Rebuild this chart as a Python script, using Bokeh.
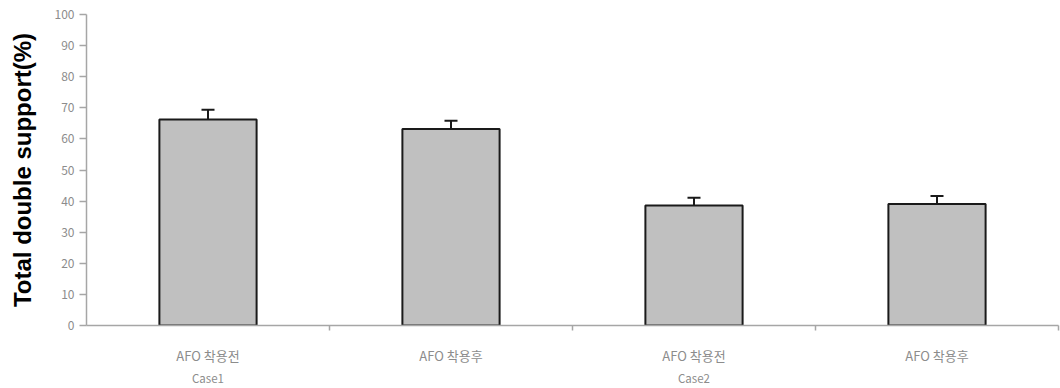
from bokeh.plotting import figure
from bokeh.models import ColumnDataSource, FixedTicker, LinearAxis, Whisker, TeeHead, Range1d
from bokeh.embed import file_html
from bokeh.resources import INLINE

# Total double support (%) before / after wearing the AFO, for two cases
conditions = ["AFO 착용전", "AFO 착용후", "AFO 착용전", "AFO 착용후"]
cases = ["Case1", "Case2"]
means = [66.2, 63.2, 38.6, 39.1]
errors = [3.2, 2.6, 2.5, 2.5]
y_ticks = list(range(0, 101, 10))

xs = [i + 0.5 for i in range(len(means))]
case_xs = [i * 2 + 0.5 for i in range(len(cases))]
boundaries = [i + 1.0 for i in range(len(means))]

src = ColumnDataSource(dict(
    x=xs,
    mean=means,
    upper=[m + e for m, e in zip(means, errors)],
))

p = figure(width=1060, height=388, output_backend="svg", toolbar_location=None,
           x_range=Range1d(0, len(means)), y_range=Range1d(0, 100),
           min_border_left=86, min_border_right=2, min_border_top=14, min_border_bottom=60,
           x_axis_type=None, y_axis_type=None)
p.outline_line_color = None
p.xgrid.visible = False
p.ygrid.visible = False
p.background_fill_color = "white"
p.border_fill_color = "white"

p.vbar(x="x", top="mean", width=0.4, bottom=0, source=src,
       fill_color="#c0c0c0", line_color="#1a1a1a", line_width=2)

whisker = Whisker(base="x", lower="mean", upper="upper", source=src,
                  line_color="#1a1a1a", line_width=2,
                  upper_head=TeeHead(size=13, line_color="#1a1a1a", line_width=2),
                  lower_head=None)
p.add_layout(whisker)

tick_color = "#8c8c8c"
axis_color = "#a6a6a6"
label_font = "Noto Sans CJK KR"

# y axis
yax = LinearAxis(ticker=FixedTicker(ticks=y_ticks))
yax.axis_line_color = axis_color
yax.axis_line_width = 1.5
yax.major_tick_line_color = axis_color
yax.major_tick_line_width = 1.5
yax.major_tick_out = 7
yax.major_tick_in = 0
yax.minor_tick_line_color = None
yax.major_label_text_color = tick_color
yax.major_label_text_font = label_font
yax.major_label_text_font_size = "12px"
yax.major_label_standoff = 5
yax.axis_label = "Total double support(%)"
yax.axis_label_text_font = "Liberation Sans"
yax.axis_label_text_font_style = "bold"
yax.axis_label_text_font_size = "24px"
yax.axis_label_text_color = "black"
yax.axis_label_standoff = 16
p.add_layout(yax, "left")

# x axis: condition labels centred under bars, boundary ticks between them
xax = LinearAxis(ticker=FixedTicker(ticks=xs, minor_ticks=boundaries))
xax.axis_line_color = axis_color
xax.axis_line_width = 1.5
xax.major_tick_line_color = None
xax.major_tick_out = 0
xax.major_tick_in = 0
xax.minor_tick_line_color = axis_color
xax.minor_tick_line_width = 1.5
xax.minor_tick_out = 5
xax.minor_tick_in = 0
xax.major_label_overrides = {x: c for x, c in zip(xs, conditions)}
xax.major_label_text_color = tick_color
xax.major_label_text_font = label_font
xax.major_label_text_font_size = "13px"
xax.major_label_standoff = 15
p.add_layout(xax, "below")

# second row: case names
cax = LinearAxis(ticker=FixedTicker(ticks=case_xs))
cax.axis_line_color = None
cax.major_tick_line_color = None
cax.minor_tick_line_color = None
cax.major_tick_out = 0
cax.major_tick_in = 0
cax.major_label_overrides = {x: c for x, c in zip(case_xs, cases)}
cax.major_label_text_color = tick_color
cax.major_label_text_font = label_font
cax.major_label_text_font_size = "11.5px"
cax.major_label_standoff = 2
p.add_layout(cax, "below")

open("out.html", "w").write(file_html(p, INLINE))
